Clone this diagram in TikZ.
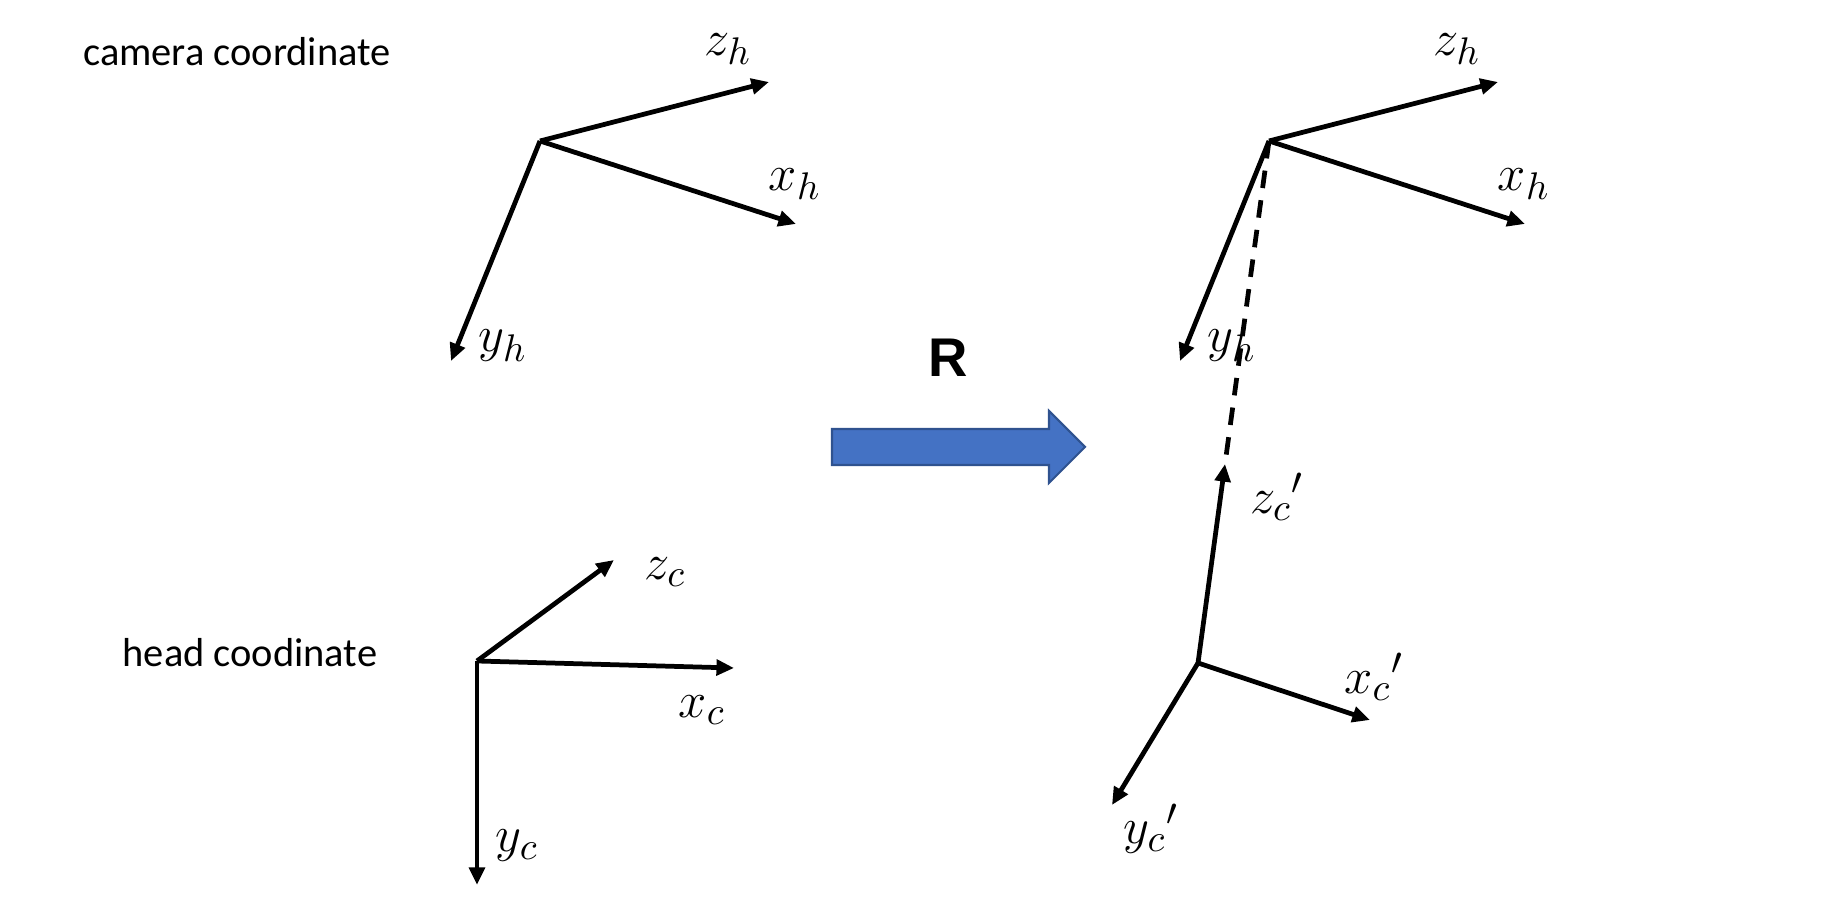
\documentclass[tikz,border=0pt]{standalone}
\usepackage[no-math]{fontspec}
\setmainfont{Carlito}
\newfontfamily\arrowfont{Liberation Sans}
\usetikzlibrary{arrows.meta,positioning}
\definecolor{rotfill}{HTML}{4472C4}
\definecolor{rotedge}{HTML}{2F528F}
\tikzset{
  axis/.style={-{Triangle[length=5pt,width=4.4pt]},draw=black,line width=1.35pt},
  guide/.style={draw=black,line width=1.35pt,dash pattern=on 5pt off 3.5pt},
  axlabel/.style={inner sep=0pt,font=\fontsize{15.5}{18}\selectfont},
  caption/.style={inner sep=0pt,font=\fontsize{11.5}{14}\selectfont}
}

\begin{document}
\begin{tikzpicture}[x=0.01cm,y=-0.01cm]
  \useasboundingbox (0,0) rectangle (1842,922);
  \node[caption] (camtext) at (237,52) {camera coordinate};
  \node[caption] (headtext) at (250,653) {head coodinate};

  \foreach \fr/\ox in {camL/540,camR/1269}{
    \coordinate (\fr O) at (\ox,141);
    \coordinate (\fr Z) at (\ox+229,82);
    \coordinate (\fr X) at (\ox+256,224);
    \coordinate (\fr Y) at (\ox-89,361);
    \node[axlabel] (\fr zl) at (\ox+188,49) {$z_h$};
    \node[axlabel] (\fr xl) at (\ox+255,184) {$x_h$};
    \node[axlabel] (\fr yl) at (\ox-37,346) {$y_h$};
  }

  \coordinate (headO) at (477,661);
  \coordinate (headZ) at (614,560);
  \coordinate (headX) at (734,668);
  \coordinate (headY) at (477,885);
  \node[axlabel] (headzl) at (665,572) {$z_c$};
  \node[axlabel] (headxl) at (702,710) {$x_c$};
  \node[axlabel] (headyl) at (517,846) {$y_c$};

  \coordinate (rotO) at (1198,663);
  \coordinate (rotZ) at (1225,464);
  \coordinate (rotX) at (1370,720);
  \coordinate (rotY) at (1112,805);
  \node[axlabel] (rotzl) at (1277,497) {${z_c}'$};
  \node[axlabel] (rotxl) at (1374,677) {${x_c}'$};
  \node[axlabel] (rotyl) at (1151,829) {${y_c}'$};

  \draw[guide] (camRO) -- (rotZ);
  \foreach \fr in {camL,camR,head,rot}
    \foreach \ax in {Z,X,Y}
      \draw[axis] (\fr O) -- (\fr\ax);

  \fill[rotfill,draw=rotedge,line width=0.6pt] (832,429) -- (1049,429) -- (1049,411)
    -- (1085,447) -- (1049,483) -- (1049,465) -- (832,465) -- cycle;
  \node[font=\fontsize{15.5}{18}\selectfont\arrowfont\bfseries] (rlabel) at (948,358) {R};
\end{tikzpicture}
\end{document}
